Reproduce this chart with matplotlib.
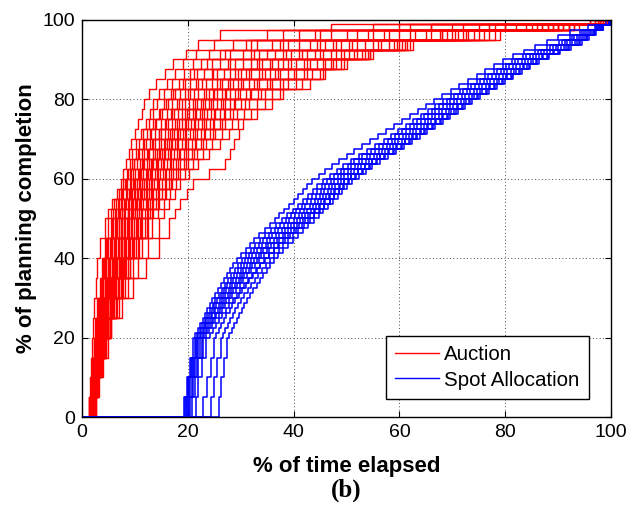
import matplotlib
matplotlib.use('Agg')
import matplotlib.pyplot as plt
from matplotlib.lines import Line2D

# Completion levels (%) at which each Auction run steps up
auction_levels = [5, 10, 15, 20, 25, 30, 35, 40, 45, 50,
                  52.5, 55, 57.5, 60, 62.5, 65, 67.5, 70, 72.5, 75, 77.5, 80,
                  82.5, 85, 87.5, 90, 92.5, 95, 97.5, 99, 100]

# Time elapsed (%) at which each Auction run reaches the levels above
auction_runs = [
    [1.35, 1.5, 1.65, 1.9, 2.1, 2.35, 2.6, 2.85, 3.3, 4.3, 5.0, 5.6, 6.7, 7.4, 7.8, 8.3, 8.9, 9.3, 10.0, 10.6, 11.3, 11.8, 12.6, 14.0, 15.6, 17.2, 19.6, 22.0, 26.0, 47.0, 97.0],
    [1.5, 1.7, 2.0, 2.2, 2.5, 2.9, 3.3, 3.7, 4.3, 5.0, 5.4, 6.0, 7.0, 7.8, 8.5, 9.0, 9.5, 10.2, 11.2, 12.0, 12.8, 13.5, 14.5, 16.0, 17.5, 19.0, 21.5, 25.0, 35.0, 55.0, 98.0],
    [1.3, 1.6, 1.9, 2.2, 2.6, 3.0, 3.5, 4.0, 4.6, 5.4, 5.9, 6.5, 7.4, 8.2, 8.7, 9.4, 10.2, 10.8, 11.6, 12.6, 13.5, 14.2, 15.4, 17.0, 19.2, 21.0, 24.0, 28.5, 41.0, 62.0, 99.0],
    [1.6, 1.9, 2.2, 2.5, 2.9, 3.3, 3.8, 4.3, 5.0, 5.8, 6.5, 7.0, 7.8, 8.5, 9.2, 9.8, 10.6, 11.5, 12.3, 13.4, 14.6, 15.5, 16.8, 18.4, 20.5, 22.5, 26.0, 31.0, 47.0, 70.0, 96.0],
    [1.4, 1.8, 2.1, 2.4, 2.8, 3.3, 3.9, 4.5, 5.3, 6.2, 6.8, 7.4, 8.3, 9.0, 9.6, 10.4, 11.3, 12.0, 13.1, 14.0, 15.2, 16.2, 17.5, 19.4, 21.8, 24.5, 28.0, 33.0, 38.0, 60.0, 98.5],
    [1.7, 2.0, 2.3, 2.7, 3.1, 3.5, 4.0, 4.6, 5.4, 6.4, 7.0, 7.6, 8.5, 9.2, 10.1, 10.9, 11.8, 12.8, 13.8, 15.0, 16.0, 17.0, 18.6, 20.5, 23.0, 26.0, 30.5, 36.0, 52.0, 75.0, 99.0],
    [1.5, 1.9, 2.3, 2.7, 3.2, 3.7, 4.3, 4.9, 5.7, 6.6, 7.2, 7.9, 8.8, 9.6, 10.5, 11.3, 12.2, 13.2, 14.5, 15.6, 16.8, 18.0, 19.5, 21.5, 24.5, 27.5, 32.0, 37.5, 44.0, 66.0, 100.0],
    [1.8, 2.1, 2.5, 2.9, 3.3, 3.8, 4.4, 5.1, 6.0, 7.0, 7.6, 8.3, 9.2, 10.0, 11.0, 11.8, 12.7, 13.8, 15.0, 16.2, 17.4, 18.8, 20.5, 22.6, 25.5, 29.0, 33.5, 39.0, 58.0, 80.0, 99.5],
    [1.6, 2.0, 2.4, 2.8, 3.3, 3.9, 4.6, 5.3, 6.2, 7.3, 7.9, 8.6, 9.5, 10.3, 11.2, 12.2, 13.4, 14.5, 15.7, 17.0, 18.2, 19.5, 21.2, 23.5, 26.8, 30.5, 35.0, 41.0, 50.0, 72.0, 100.0],
    [1.9, 2.2, 2.6, 3.0, 3.5, 4.1, 4.8, 5.6, 6.5, 7.5, 8.2, 8.9, 9.8, 10.7, 11.6, 12.6, 13.8, 15.0, 16.3, 17.6, 18.9, 20.3, 22.0, 24.5, 28.0, 32.0, 36.5, 43.0, 62.0, 85.0, 98.0],
    [1.7, 2.1, 2.5, 3.0, 3.6, 4.2, 4.9, 5.8, 6.8, 7.9, 8.6, 9.3, 10.1, 11.0, 12.0, 13.0, 14.2, 15.4, 16.7, 18.0, 19.5, 21.0, 23.0, 25.6, 29.0, 33.0, 38.0, 44.5, 55.0, 78.0, 100.0],
    [2.0, 2.3, 2.7, 3.2, 3.7, 4.4, 5.1, 6.0, 7.0, 8.2, 8.9, 9.6, 10.5, 11.4, 12.4, 13.5, 14.7, 16.0, 17.4, 18.8, 20.3, 21.8, 24.0, 26.5, 30.0, 34.0, 39.5, 46.0, 67.7, 88.0, 99.0],
    [1.8, 2.2, 2.7, 3.2, 3.8, 4.5, 5.3, 6.2, 7.3, 8.5, 9.2, 10.0, 10.9, 11.8, 12.9, 14.0, 15.2, 16.5, 17.9, 19.4, 21.0, 22.5, 24.8, 27.5, 31.0, 35.5, 41.0, 47.5, 60.0, 82.0, 100.0],
    [2.1, 2.5, 2.9, 3.4, 4.0, 4.7, 5.5, 6.4, 7.5, 8.8, 9.6, 10.4, 11.3, 12.2, 13.3, 14.4, 15.7, 17.0, 18.5, 20.0, 21.6, 23.2, 25.5, 28.5, 32.0, 37.0, 42.5, 49.0, 72.0, 90.0, 97.5],
    [1.9, 2.3, 2.8, 3.4, 4.1, 4.9, 5.7, 6.7, 7.9, 9.2, 10.0, 10.8, 11.7, 12.7, 13.8, 15.0, 16.3, 17.6, 19.1, 20.6, 22.3, 24.0, 26.4, 29.5, 33.5, 38.0, 44.0, 50.5, 65.0, 86.0, 100.0],
    [2.2, 2.6, 3.0, 3.6, 4.2, 5.0, 5.9, 6.9, 8.1, 9.5, 10.3, 11.2, 12.2, 13.2, 14.3, 15.5, 16.8, 18.2, 19.7, 21.3, 23.0, 24.8, 27.2, 30.5, 34.5, 39.5, 45.5, 52.0, 79.0, 92.0, 99.5],
    [2.0, 2.4, 2.9, 3.5, 4.3, 5.2, 6.1, 7.2, 8.4, 9.8, 10.7, 11.6, 12.6, 13.6, 14.8, 16.0, 17.4, 18.8, 20.4, 22.0, 23.7, 25.5, 28.0, 31.5, 35.5, 40.5, 47.0, 53.5, 70.0, 89.0, 100.0],
    [2.3, 2.7, 3.1, 3.7, 4.4, 5.3, 6.3, 7.4, 8.7, 10.2, 11.1, 12.0, 13.0, 14.1, 15.3, 16.6, 18.0, 19.4, 21.0, 22.6, 24.4, 26.2, 29.0, 32.5, 36.5, 42.0, 48.0, 55.0, 75.0, 91.0, 98.5],
    [2.1, 2.6, 3.1, 3.8, 4.6, 5.5, 6.5, 7.7, 9.0, 10.5, 11.4, 12.4, 13.5, 14.6, 15.9, 17.2, 18.6, 20.0, 21.7, 23.4, 25.2, 27.0, 29.8, 33.5, 37.5, 43.0, 49.5, 56.5, 66.0, 87.0, 100.0],
    [2.4, 2.8, 3.3, 3.9, 4.7, 5.7, 6.8, 8.0, 9.4, 11.0, 11.9, 12.9, 14.0, 15.2, 16.5, 17.8, 19.3, 20.8, 22.5, 24.2, 26.1, 28.0, 31.0, 35.0, 39.0, 44.5, 50.5, 58.0, 77.0, 93.0, 96.0],
    [2.2, 2.7, 3.2, 4.0, 4.9, 5.9, 7.0, 8.3, 9.8, 11.4, 12.4, 13.4, 14.6, 15.8, 17.1, 18.5, 20.0, 21.6, 23.3, 25.0, 27.0, 29.0, 32.0, 36.0, 40.5, 46.0, 52.0, 59.0, 69.0, 88.0, 100.0],
    [2.5, 2.9, 3.4, 4.1, 5.0, 6.1, 7.3, 8.7, 10.2, 11.9, 12.9, 14.0, 15.2, 16.4, 17.8, 19.2, 20.8, 22.4, 24.2, 26.0, 28.0, 30.0, 33.2, 37.5, 42.0, 47.0, 53.0, 60.5, 74.0, 92.0, 99.0],
    [2.3, 2.8, 3.4, 4.3, 5.3, 6.4, 7.7, 9.1, 10.7, 12.5, 13.5, 14.6, 15.8, 17.0, 18.5, 20.0, 21.7, 23.4, 25.2, 27.0, 29.2, 31.5, 34.5, 39.0, 43.5, 48.0, 54.0, 61.5, 71.0, 90.0, 100.0],
    [2.6, 3.0, 3.6, 4.5, 5.5, 6.7, 8.1, 9.6, 11.3, 13.2, 14.3, 15.4, 16.6, 17.8, 19.4, 21.0, 22.8, 24.6, 26.5, 28.4, 30.7, 33.0, 36.0, 40.5, 45.0, 49.0, 54.5, 62.0, 78.0, 94.0, 98.0],
    [2.4, 3.0, 3.8, 4.6, 5.3, 7.0, 8.6, 10.5, 12.5, 14.5, 15.5, 16.5, 17.5, 18.5, 20.2, 22.0, 24.0, 26.0, 27.8, 29.5, 32.0, 34.5, 37.5, 41.5, 45.5, 49.5, 55.0, 62.5, 68.0, 89.0, 100.0],
    [2.6, 3.2, 4.0, 4.9, 5.4, 7.5, 9.6, 12.0, 14.5, 16.5, 17.5, 18.5, 19.8, 21.0, 24.0, 27.0, 28.0, 28.8, 29.6, 30.5, 33.0, 36.0, 38.0, 43.0, 46.0, 50.0, 54.5, 61.0, 76.0, 93.0, 97.0],
    [1.5, 1.8, 2.1, 2.4, 2.8, 3.2, 3.7, 4.2, 4.8, 5.6, 6.2, 6.8, 7.6, 8.4, 9.1, 9.9, 10.8, 11.8, 12.8, 13.8, 14.8, 15.8, 17.2, 19.0, 21.2, 23.6, 27.0, 32.0, 45.0, 66.0, 99.0],
    [1.7, 2.0, 2.4, 2.8, 3.3, 3.9, 4.5, 5.2, 6.0, 6.9, 7.5, 8.1, 9.0, 9.8, 10.7, 11.6, 12.5, 13.5, 14.6, 15.8, 17.0, 18.3, 20.0, 22.0, 24.8, 28.0, 32.5, 38.0, 54.0, 77.0, 100.0],
    [1.9, 2.3, 2.7, 3.1, 3.6, 4.3, 5.0, 5.9, 6.9, 8.0, 8.7, 9.5, 10.4, 11.3, 12.3, 13.3, 14.5, 15.7, 17.0, 18.4, 19.9, 21.4, 23.5, 26.0, 29.5, 33.5, 38.5, 45.0, 57.0, 80.0, 99.0],
    [2.0, 2.4, 2.8, 3.3, 3.9, 4.6, 5.4, 6.3, 7.4, 8.6, 9.4, 10.2, 11.1, 12.0, 13.1, 14.2, 15.5, 16.8, 18.2, 19.7, 21.3, 22.9, 25.0, 28.0, 31.5, 36.0, 41.5, 48.0, 63.0, 84.0, 100.0],
    [2.2, 2.6, 3.0, 3.5, 4.2, 5.0, 5.9, 6.9, 8.0, 9.3, 10.1, 11.0, 12.0, 13.0, 14.1, 15.3, 16.6, 18.0, 19.5, 21.1, 22.7, 24.4, 27.0, 30.0, 34.0, 39.0, 45.0, 51.0, 68.0, 87.0, 98.0],
    [2.3, 2.7, 3.2, 3.8, 4.5, 5.4, 6.4, 7.5, 8.8, 10.3, 11.2, 12.2, 13.2, 14.3, 15.6, 16.9, 18.3, 19.7, 21.4, 23.1, 24.9, 26.7, 29.5, 33.0, 37.0, 42.5, 49.0, 56.0, 73.0, 91.0, 100.0],
    [2.4, 2.9, 3.4, 4.1, 4.9, 5.9, 7.0, 8.2, 9.6, 11.2, 12.2, 13.2, 14.4, 15.6, 16.9, 18.2, 19.7, 21.3, 23.0, 24.8, 26.8, 28.8, 31.8, 35.5, 40.0, 45.5, 51.5, 59.5, 72.5, 90.0, 99.0],
    [2.5, 3.0, 3.6, 4.4, 5.3, 6.4, 7.6, 9.0, 10.5, 12.2, 13.3, 14.4, 15.6, 16.8, 18.2, 19.6, 21.2, 22.8, 24.7, 26.5, 28.6, 30.8, 33.8, 38.0, 42.5, 47.5, 53.5, 60.0, 70.5, 92.0, 100.0],
]

# Completion levels (%) for the Spot Allocation runs
spot_levels = [5, 10, 15, 20, 21.25, 22.5, 23.75, 25, 26.25, 27.5, 28.75, 30,
               31.25, 32.5, 33.75, 35, 36.25, 37.5, 38.75, 40, 41.25, 42.5, 43.75,
               45, 46.25, 47.5, 48.75, 50, 51.25, 52.5, 53.75, 55, 56.25, 57.5,
               58.75, 60, 61.25, 62.5, 63.75, 65, 66.25, 67.5, 68.75, 70, 71.25,
               72.5, 73.75, 75, 76.25, 77.5, 78.75, 80, 81.25, 82.5, 83.75, 85,
               86.25, 87.5, 88.75, 90, 91.25, 92.5, 93.75, 95, 96.25, 97.5, 98.75, 100]

# Time elapsed (%) at which each Spot Allocation run reaches the levels above
spot_runs = [
    [19.2, 19.8, 20.4, 21.0, 21.4, 21.9, 22.3, 22.8, 23.2, 23.7, 24.1, 24.6, 25.1, 25.7, 26.2, 26.8, 27.4, 28.0, 28.6, 29.3, 30.1, 30.9, 31.7, 32.5, 33.5, 34.5, 35.5, 36.5, 37.3, 38.2, 39.1, 40.0, 40.8, 41.7, 42.6, 43.5, 44.7, 46.0, 47.2, 48.5, 50.0, 51.5, 53.0, 54.5, 56.0, 57.5, 59.0, 60.5, 62.0, 63.5, 65.0, 66.5, 68.1, 69.7, 71.3, 73.0, 74.6, 76.2, 77.8, 79.5, 81.5, 83.6, 85.7, 87.8, 90.0, 92.2, 95.6, 99.0],
    [19.4, 20.0, 20.6, 21.4, 21.8, 22.3, 22.7, 23.2, 23.7, 24.2, 24.7, 25.2, 25.8, 26.4, 27.0, 27.6, 28.2, 28.9, 29.5, 30.2, 31.0, 31.9, 32.7, 33.6, 34.6, 35.7, 36.7, 37.8, 38.8, 39.8, 40.8, 41.8, 42.7, 43.6, 44.5, 45.5, 46.8, 48.1, 49.4, 50.8, 52.3, 53.9, 55.4, 57.0, 58.4, 59.8, 61.2, 62.6, 64.0, 65.4, 66.8, 68.2, 69.8, 71.4, 73.0, 74.6, 76.2, 77.9, 79.5, 81.2, 83.4, 85.7, 87.9, 90.2, 92.2, 94.2, 96.9, 99.6],
    [19.6, 20.1, 20.8, 21.6, 22.0, 22.5, 23.0, 23.5, 24.0, 24.5, 25.0, 25.6, 26.2, 26.8, 27.4, 28.1, 28.7, 29.4, 30.1, 30.8, 31.6, 32.5, 33.4, 34.3, 35.3, 36.4, 37.4, 38.5, 39.5, 40.5, 41.5, 42.6, 43.5, 44.4, 45.3, 46.3, 47.6, 48.9, 50.2, 51.5, 53.0, 54.6, 56.2, 57.8, 59.1, 60.5, 61.9, 63.3, 64.7, 66.1, 67.5, 68.9, 70.4, 72.0, 73.6, 75.2, 76.8, 78.5, 80.1, 81.8, 84.0, 86.2, 88.4, 90.7, 92.6, 94.5, 97.1, 99.7],
    [19.8, 20.3, 21.0, 21.8, 22.3, 22.8, 23.3, 23.8, 24.3, 24.9, 25.4, 26.0, 26.6, 27.3, 27.9, 28.6, 29.3, 30.0, 30.7, 31.4, 32.2, 33.1, 34.0, 34.9, 35.9, 37.0, 38.1, 39.2, 40.2, 41.2, 42.2, 43.3, 44.2, 45.1, 46.0, 47.0, 48.3, 49.6, 50.9, 52.3, 53.8, 55.4, 56.9, 58.5, 59.9, 61.3, 62.7, 64.1, 65.4, 66.8, 68.2, 69.6, 71.1, 72.7, 74.3, 75.9, 77.5, 79.2, 80.8, 82.5, 84.6, 86.8, 89.0, 91.2, 93.0, 94.9, 97.3, 99.8],
    [20.0, 20.5, 21.2, 22.0, 22.5, 23.0, 23.5, 24.1, 24.6, 25.2, 25.8, 26.4, 27.0, 27.7, 28.4, 29.1, 29.8, 30.5, 31.2, 32.0, 32.9, 33.8, 34.7, 35.6, 36.7, 37.8, 38.9, 40.0, 41.0, 42.0, 43.0, 44.0, 44.9, 45.8, 46.7, 47.7, 49.0, 50.3, 51.6, 53.0, 54.5, 56.1, 57.6, 59.2, 60.6, 62.0, 63.4, 64.8, 66.1, 67.5, 68.9, 70.3, 71.8, 73.4, 75.0, 76.6, 78.2, 79.8, 81.4, 83.1, 85.2, 87.4, 89.5, 91.7, 93.5, 95.3, 97.5, 99.8],
    [20.2, 20.7, 21.4, 22.3, 22.8, 23.4, 23.9, 24.5, 25.1, 25.7, 26.3, 26.9, 27.5, 28.2, 28.9, 29.6, 30.3, 31.0, 31.7, 32.5, 33.4, 34.3, 35.2, 36.2, 37.3, 38.4, 39.5, 40.6, 41.6, 42.6, 43.6, 44.6, 45.5, 46.4, 47.3, 48.3, 49.6, 50.9, 52.2, 53.6, 55.1, 56.7, 58.2, 59.8, 61.2, 62.6, 64.0, 65.4, 66.7, 68.1, 69.5, 70.9, 72.4, 74.0, 75.6, 77.2, 78.8, 80.4, 82.0, 83.7, 85.8, 87.9, 90.0, 92.2, 93.9, 95.6, 97.7, 99.9],
    [20.5, 21.0, 21.7, 22.6, 23.1, 23.7, 24.2, 24.8, 25.4, 26.0, 26.6, 27.3, 27.9, 28.6, 29.3, 30.0, 30.7, 31.5, 32.2, 33.0, 33.9, 34.9, 35.8, 36.8, 37.9, 39.0, 40.1, 41.2, 42.2, 43.2, 44.2, 45.2, 46.1, 47.0, 47.9, 48.9, 50.2, 51.5, 52.8, 54.2, 55.7, 57.3, 58.8, 60.4, 61.8, 63.2, 64.6, 66.0, 67.4, 68.8, 70.2, 71.6, 73.1, 74.7, 76.3, 77.9, 79.5, 81.1, 82.7, 84.3, 86.4, 88.5, 90.6, 92.7, 94.3, 96.0, 98.0, 100.0],
    [20.8, 21.3, 22.0, 22.9, 23.4, 24.0, 24.6, 25.2, 25.8, 26.4, 27.0, 27.7, 28.4, 29.1, 29.8, 30.5, 31.2, 32.0, 32.7, 33.5, 34.4, 35.4, 36.3, 37.3, 38.4, 39.5, 40.6, 41.8, 42.8, 43.8, 44.8, 45.8, 46.7, 47.6, 48.5, 49.5, 50.8, 52.1, 53.4, 54.8, 56.3, 57.9, 59.4, 61.0, 62.4, 63.8, 65.2, 66.7, 68.0, 69.4, 70.8, 72.2, 73.7, 75.3, 76.9, 78.5, 80.1, 81.7, 83.3, 84.9, 86.9, 89.0, 91.1, 93.2, 94.7, 96.3, 98.1, 100.0],
    [21.5, 22.0, 22.7, 23.5, 24.1, 24.7, 25.3, 25.9, 26.5, 27.2, 27.8, 28.5, 29.2, 29.9, 30.6, 31.4, 32.1, 32.9, 33.6, 34.4, 35.3, 36.3, 37.3, 38.3, 39.4, 40.5, 41.6, 42.8, 43.8, 44.8, 45.8, 46.8, 47.7, 48.6, 49.5, 50.5, 51.8, 53.1, 54.4, 55.8, 57.3, 58.9, 60.4, 62.0, 63.4, 64.9, 66.3, 67.8, 69.2, 70.6, 72.0, 73.4, 74.9, 76.5, 78.0, 79.6, 81.2, 82.8, 84.4, 86.0, 88.0, 90.1, 92.1, 94.2, 95.5, 96.9, 98.4, 100.0],
    [22.9, 23.6, 24.3, 24.9, 25.3, 25.8, 26.3, 26.8, 27.3, 27.9, 28.4, 29.0, 29.6, 30.3, 30.9, 31.6, 32.3, 33.0, 33.7, 34.5, 35.3, 36.2, 37.1, 38.0, 39.0, 40.1, 41.1, 42.2, 43.1, 44.1, 45.0, 46.0, 46.9, 47.8, 48.7, 49.6, 50.9, 52.2, 53.5, 54.9, 56.4, 58.0, 59.5, 61.1, 62.5, 64.0, 65.4, 66.9, 68.3, 69.7, 71.1, 72.5, 74.0, 75.6, 77.2, 78.8, 80.4, 82.0, 83.6, 85.2, 87.2, 89.3, 91.4, 93.5, 95.0, 96.5, 98.2, 100.0],
    [24.4, 25.0, 25.6, 26.2, 26.6, 27.1, 27.5, 28.0, 28.5, 29.0, 29.5, 30.1, 30.7, 31.3, 31.9, 32.6, 33.3, 34.0, 34.7, 35.5, 36.3, 37.2, 38.0, 38.9, 39.9, 40.9, 41.9, 43.0, 43.9, 44.9, 45.8, 46.8, 47.6, 48.5, 49.4, 50.3, 51.6, 52.9, 54.2, 55.6, 57.1, 58.7, 60.2, 61.8, 63.2, 64.7, 66.1, 67.6, 69.0, 70.4, 71.8, 73.2, 74.7, 76.3, 77.8, 79.4, 81.0, 82.6, 84.2, 85.8, 87.8, 89.9, 91.9, 94.0, 95.4, 96.8, 98.4, 100.0],
    [25.8, 26.2, 26.8, 27.4, 27.8, 28.3, 28.7, 29.2, 29.7, 30.2, 30.7, 31.2, 31.8, 32.4, 33.0, 33.6, 34.2, 34.9, 35.6, 36.3, 37.1, 38.0, 38.9, 39.8, 40.8, 41.8, 42.8, 43.8, 44.7, 45.6, 46.5, 47.5, 48.3, 49.2, 50.1, 51.0, 52.3, 53.6, 54.9, 56.3, 57.8, 59.3, 60.8, 62.4, 63.8, 65.3, 66.7, 68.2, 69.6, 71.0, 72.4, 73.8, 75.3, 76.9, 78.4, 80.0, 81.5, 83.1, 84.7, 86.3, 88.3, 90.4, 92.4, 94.5, 95.8, 97.1, 98.5, 100.0],
]

ticks = [0, 20, 40, 60, 80, 100]
tick_labels = ['0', '20', '40', '60', '80', '100']

plt.rcParams['font.family'] = ['Liberation Sans', 'DejaVu Sans']

fig = plt.figure(figsize=(6.36, 5.09), dpi=100)
ax = fig.add_axes([0.129, 0.1804, 0.8318, 0.7809])


def draw_runs(runs, levels, color, lw):
    for xs in runs:
        n = min(len(xs), len(levels))
        ax.step([0] + list(xs[:n]) + [100], [0] + list(levels[:n]) + [levels[n - 1]],
                where='post', color=color, lw=lw)


draw_runs(auction_runs, auction_levels, (1, 0, 0), 1.0)
draw_runs(spot_runs, spot_levels, (0, 0, 1), 1.1)

ax.set_xlim(0, 100)
ax.set_ylim(0, 100)
ax.set_xticks(ticks)
ax.set_xticklabels(tick_labels)
ax.set_yticks(ticks)
ax.set_yticklabels(tick_labels)
ax.set_axisbelow(True)
ax.grid(True, color='0.3', linestyle=(0, (1, 2.5)), linewidth=0.7)
ax.tick_params(direction='in', top=True, right=True, length=4, width=0.8,
               labelsize=14, pad=5, colors='black')
for sp in ax.spines.values():
    sp.set_linewidth(1.0)
    sp.set_color('black')

ax.set_xlabel('% of time elapsed', fontsize=16, fontweight='bold', labelpad=11)
ax.set_ylabel('% of planning completion', fontsize=16, fontweight='bold', labelpad=4)

handles = [Line2D([], [], color=(1, 0, 0), lw=1.0), Line2D([], [], color=(0, 0, 1), lw=1.0)]
leg = ax.legend(handles, ['Auction', 'Spot Allocation'], loc='lower right',
                bbox_to_anchor=(0.958, 0.046), borderaxespad=0, fontsize=14.8,
                fancybox=False, framealpha=1, edgecolor='black',
                handlelength=2.15, handletextpad=0.25, borderpad=0.45, labelspacing=0.3)
leg.get_frame().set_linewidth(1.0)

fig.text(0.544, 0.037, '(b)', ha='center', va='center',
         family=['Liberation Serif', 'DejaVu Serif'], fontweight='bold', fontsize=18)

fig.savefig('out.png', dpi=100)
